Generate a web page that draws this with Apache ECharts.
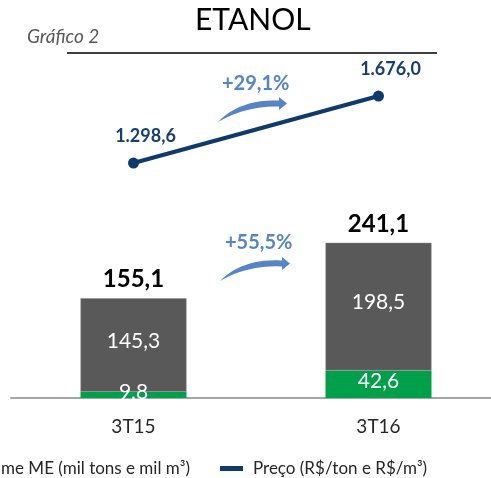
<!DOCTYPE html>
<html>
<head>
<meta charset="utf-8">
<script src="https://cdn.jsdelivr.net/npm/echarts@6/dist/echarts.min.js"></script>
<style>
  html, body { margin: 0; padding: 0; background: #fff; overflow: hidden; }
  #main { width: 501px; height: 478px; }
</style>
</head>
<body>
<div id="main"></div>
<script>
var categories = ['3T15', '3T16'];
var volumeMI = [145.3, 198.5];   // cinza
var volumeME = [9.8, 42.6];      // verde
var preco = [1298.6, 1676.0];    // linha
var variacoes = ['+29,1%', '+55,5%'];

var FONT = 'Lato';

function br(v) {  // formato brasileiro: 1.298,6
  var s = v.toFixed(1).split('.');
  var inteiro = s[0].replace(/\B(?=(\d{3})+(?!\d))/g, '.');
  return inteiro + ',' + s[1];
}

// seta curva (decorativa) como poligono
function seta(x0, y0, cx1, cy1, cx2, cy2, hx, hy) {
  function q(a, c, b, t) { return (1 - t) * (1 - t) * a + 2 * (1 - t) * t * c + t * t * b; }
  var pts = [];
  var i, t;
  for (i = 0; i <= 12; i++) {
    t = i / 12;
    pts.push([q(x0, cx1, hx, t), q(y0, cy1, hy - 3, t)]);
  }
  pts.push([hx, hy - 6.5]);
  pts.push([hx + 8, hy]);
  pts.push([hx, hy + 6.5]);
  for (i = 12; i >= 0; i--) {
    t = i / 12;
    pts.push([q(x0, cx2, hx, t), q(y0, cy2, hy + 3, t)]);
  }
  return pts;
}

var totais = categories.map(function (c, i) {
  return +(volumeMI[i] + volumeME[i]).toFixed(1);
});

// o grafico original esta cortado a direita: container 10px mais largo que a janela
var chart = echarts.init(document.getElementById('main'));

var option = {
  animation: false,
  grid: { left: 11, right: 0, top: 60, bottom: 80 },
  legend: [{
    data: ['Volume ME (mil tons e mil m³)'],
    right: 306,
    top: 455,
    itemWidth: 9,
    itemHeight: 9,
    icon: 'rect',
    textStyle: { fontFamily: FONT, fontSize: 17, color: '#262626' }
  }, {
    data: ['Preço (R$/ton e R$/m³)'],
    left: 215,
    top: 455,
    itemWidth: 23,
    itemHeight: 5,
    icon: 'rect',
    textStyle: { fontFamily: FONT, fontSize: 17, color: '#262626', padding: [0, 0, 0, 5] }
  }],
  xAxis: {
    type: 'category',
    data: categories,
    axisLine: { lineStyle: { color: '#a6a6a6', width: 2 } },
    axisTick: { show: false },
    axisLabel: { margin: 19, fontFamily: FONT, fontSize: 19, color: '#262626' }
  },
  yAxis: [{
    type: 'value', min: 0, max: 525, show: false, splitLine: { show: false }
  }, {
    type: 'value', min: -25, max: 1879, show: false, splitLine: { show: false }
  }],
  series: [{
    name: 'Volume ME (mil tons e mil m³)',
    type: 'bar',
    stack: 'vol',
    barWidth: 106,
    data: volumeME,
    itemStyle: { color: '#00a04b' },
    label: {
      show: true,
      position: 'inside',
      offset: [0, -3],
      formatter: function (p) { return br(p.value); },
      fontFamily: FONT, fontSize: 21, color: '#ffffff'
    }
  }, {
    name: 'Volume MI (mil tons e mil m³)',
    type: 'bar',
    stack: 'vol',
    barWidth: 106,
    data: volumeMI,
    itemStyle: { color: '#595959', borderColor: '#8c8c8c', borderWidth: 0.5 },
    label: {
      show: true,
      position: 'inside',
      offset: [0, -4],
      formatter: function (p) { return br(p.value); },
      fontFamily: FONT, fontSize: 21, color: '#ffffff'
    }
  }, {
    name: 'total',
    type: 'bar',
    stack: 'vol',
    barWidth: 106,
    data: totais.map(function () { return 0; }),
    label: {
      show: true,
      position: 'top',
      distance: 7,
      formatter: function (p) { return br(totais[p.dataIndex]); },
      fontFamily: FONT, fontSize: 24, fontWeight: 'bold', color: '#000000'
    }
  }, {
    name: 'Preço (R$/ton e R$/m³)',
    type: 'line',
    yAxisIndex: 1,
    data: preco,
    symbol: 'circle',
    symbolSize: 11,
    lineStyle: { color: '#0e3a6c', width: 4 },
    itemStyle: { color: '#0e3a6c' },
    label: {
      show: true,
      position: 'top',
      distance: 12,
      offset: [12, 0],
      formatter: function (p) { return br(p.value); },
      fontFamily: FONT, fontSize: 18, fontWeight: 'bold', color: '#173f6f'
    }
  }],
  graphic: [{
    type: 'text',
    left: 195,
    top: 5,
    style: { text: 'ETANOL', font: '30px ' + FONT, fill: '#000' }
  }, {
    type: 'text',
    left: 27,
    top: 27,
    style: { text: 'Gráfico 2', font: 'italic 19px ' + FONT, fill: '#595959' }
  }, {
    type: 'line',
    shape: { x1: 67, y1: 53, x2: 437, y2: 53 },
    style: { stroke: '#000', lineWidth: 1.5 }
  }, {
    type: 'text',
    left: 222,
    top: 74,
    style: { text: variacoes[0], font: 'bold 20px ' + FONT, fill: '#5585c5' }
  }, {
    type: 'polygon',
    shape: { points: seta(218, 122, 240, 99, 245, 106, 279, 103.5) },
    style: { fill: '#5585c5' }
  }, {
    type: 'text',
    left: 225,
    top: 233,
    style: { text: variacoes[1], font: 'bold 20px ' + FONT, fill: '#5585c5' }
  }, {
    type: 'polygon',
    shape: { points: seta(220, 281, 243, 258, 247, 265, 282, 263.5) },
    style: { fill: '#5585c5' }
  }]
};

chart.setOption(option);
</script>
</body>
</html>
